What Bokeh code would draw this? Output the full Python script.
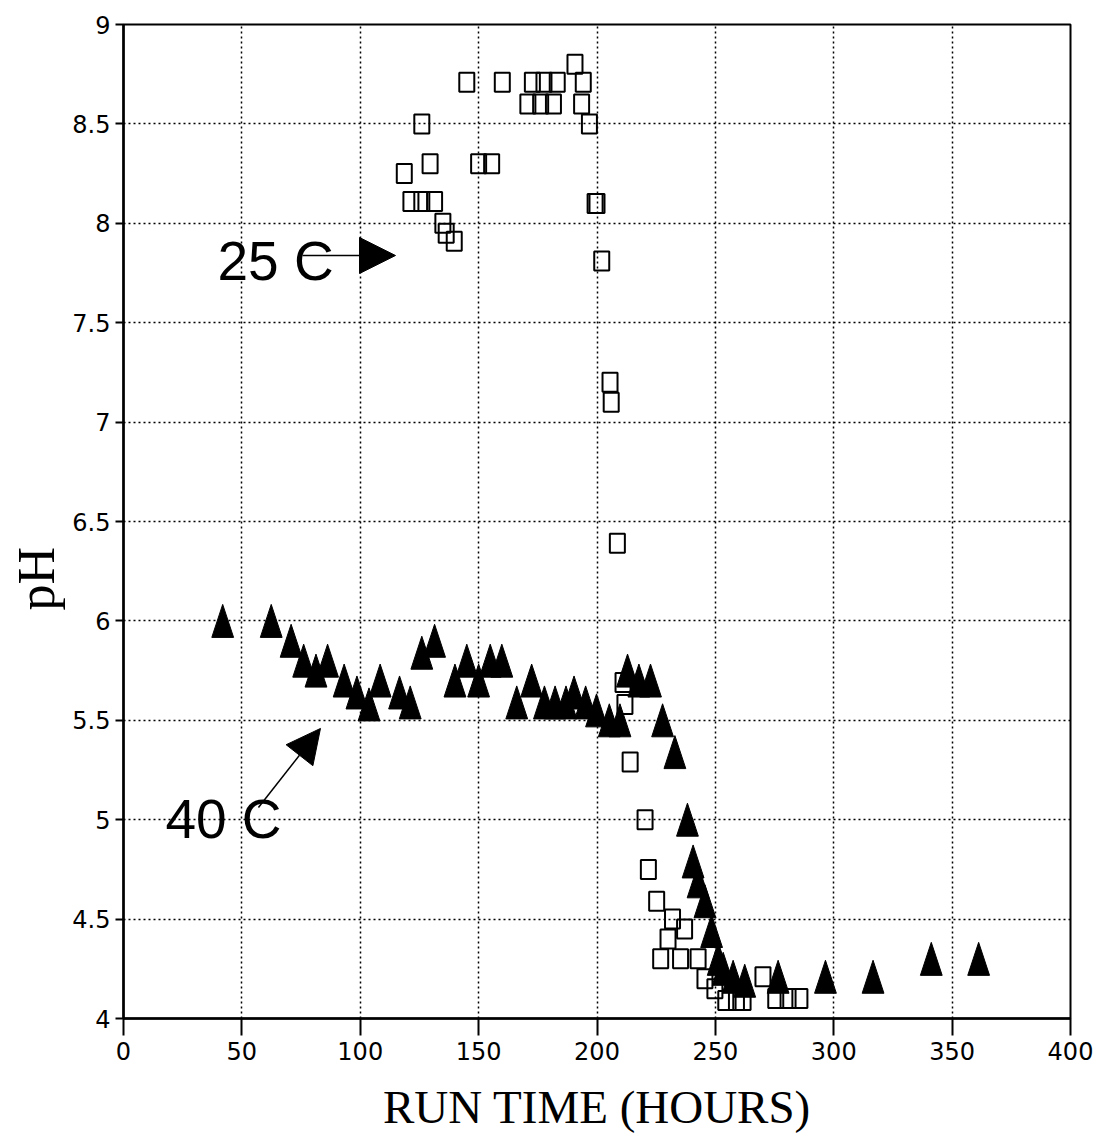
from bokeh.plotting import figure
from bokeh.models import Range1d, FixedTicker, Label, Arrow, NormalHead, Title
from bokeh.embed import file_html
from bokeh.resources import INLINE

# pH readings at 25 C (open squares)
hours_25c = [118.6, 121.4, 126.0, 126.0, 129.5, 131.4, 134.9, 136.3, 139.7, 145.0,
             150.0, 155.5, 160.0, 170.8, 172.7, 176.2, 177.6, 181.6, 183.2, 190.7,
             193.5, 194.2, 196.8, 199.2, 200.0, 202.0, 205.5, 206.0, 208.6, 211.0,
             211.8, 214.0, 220.3, 221.7, 225.2, 226.9, 230.0, 231.9, 235.3, 237.0,
             242.7, 245.6, 249.8, 254.4, 258.9, 261.7, 270.1, 275.5, 280.7, 285.7]
ph_25c = [8.25, 8.11, 8.11, 8.50, 8.30, 8.11, 8.00, 7.95, 7.91, 8.71,
          8.30, 8.30, 8.71, 8.60, 8.71, 8.60, 8.71, 8.60, 8.71, 8.80,
          8.60, 8.71, 8.50, 8.10, 8.10, 7.81, 7.20, 7.10, 6.39, 5.69,
          5.58, 5.29, 5.00, 4.75, 4.59, 4.30, 4.40, 4.50, 4.30, 4.45,
          4.30, 4.20, 4.15, 4.09, 4.09, 4.09, 4.21, 4.10, 4.10, 4.10]

# pH readings at 40 C (filled triangles)
hours_40c = [41.9, 62.4, 70.8, 76.1, 81.3, 86.2, 93.2, 98.6, 103.7, 108.4,
             116.6, 121.1, 126.0, 131.4, 140.0, 145.0, 150.0, 154.9, 159.8, 166.1,
             172.4, 177.8, 182.3, 186.9, 190.3, 195.2, 199.8, 205.2, 209.7, 212.9,
             217.7, 222.6, 227.7, 232.9, 238.2, 240.6, 242.7, 245.6, 248.4, 251.2,
             253.3, 257.5, 262.4, 276.5, 296.5, 316.6, 341.2, 361.2]
ph_40c = [6.00, 6.00, 5.90, 5.80, 5.75, 5.80, 5.70, 5.64, 5.58, 5.70,
          5.64, 5.59, 5.84, 5.90, 5.70, 5.80, 5.70, 5.80, 5.80, 5.59,
          5.70, 5.59, 5.59, 5.59, 5.64, 5.59, 5.55, 5.50, 5.50, 5.75,
          5.70, 5.70, 5.50, 5.34, 5.00, 4.79, 4.69, 4.59, 4.44, 4.30,
          4.25, 4.21, 4.19, 4.21, 4.21, 4.21, 4.30, 4.30]

x_ticks = [0, 50, 100, 150, 200, 250, 300, 350, 400]
y_ticks = [4.0, 4.5, 5.0, 5.5, 6.0, 6.5, 7.0, 7.5, 8.0, 8.5, 9.0]
y_tick_labels = ["4", "4.5", "5", "5.5", "6", "6.5", "7", "7.5", "8", "8.5", "9"]

p = figure(width=1099, height=1136,
           x_range=Range1d(0, 400), y_range=Range1d(4, 9),
           output_backend="svg", toolbar_location=None,
           min_border_left=123, min_border_right=29,
           min_border_top=24, min_border_bottom=118)

p.background_fill_color = "white"
p.border_fill_color = "white"
p.outline_line_color = "black"
p.outline_line_width = 2

# axes
tick_font = "DejaVu Sans"
for ax in (p.xaxis, p.yaxis):
    ax.axis_line_width = 2.5
    ax.axis_line_color = "black"
    ax.major_tick_line_width = 2
    ax.major_tick_line_color = "black"
    ax.major_tick_in = 0
    ax.minor_tick_in = 0
    ax.minor_tick_out = 0
    ax.major_label_text_font = tick_font
    ax.major_label_text_font_size = "24px"
    ax.major_label_text_color = "black"

p.xaxis.ticker = FixedTicker(ticks=x_ticks)
p.yaxis.ticker = FixedTicker(ticks=y_ticks)
p.yaxis.major_label_overrides = dict(zip(y_ticks, y_tick_labels))
p.xaxis.major_tick_out = 17
p.yaxis.major_tick_out = 8
p.xaxis.major_label_standoff = 6
p.yaxis.major_label_standoff = 5

# x axis title
p.xaxis.axis_label = "RUN TIME (HOURS)"
p.xaxis.axis_label_text_font = "Liberation Serif"
p.xaxis.axis_label_text_font_size = "47px"
p.xaxis.axis_label_text_font_style = "normal"
p.xaxis.axis_label_text_color = "black"
p.xaxis.axis_label_standoff = 18

# y axis title, set lower than the middle of the axis
p.add_layout(Title(text="pH", align="left", offset=408, standoff=10,
                   text_font="Liberation Serif", text_font_size="52px",
                   text_font_style="normal", text_color="black"), "left")

# dotted grid
for g in (p.xgrid, p.ygrid):
    g.grid_line_color = "black"
    g.grid_line_dash = "2 3"
    g.grid_line_width = 1.5
    g.grid_line_alpha = 1.0

# 25 C: hollow squares
p.rect(x=hours_25c, y=ph_25c, width=15, height=19,
       width_units="screen", height_units="screen",
       fill_color=None, line_color="black", line_width=2)

# 40 C: tall filled triangles centred on each reading
TRI_HALF_W = 4.6     # hours
TRI_HALF_H = 0.083   # pH units
tri_xs = [[x - TRI_HALF_W, x + TRI_HALF_W, x] for x in hours_40c]
tri_ys = [[y - TRI_HALF_H, y - TRI_HALF_H, y + TRI_HALF_H] for y in ph_40c]
p.patches(tri_xs, tri_ys, fill_color="black", line_color="black", line_width=1)

# series call-outs
p.add_layout(Label(x=39.7, y=7.81, text="25  C", text_font="Liberation Sans",
                   text_font_size="55px", text_color="black",
                   text_baseline="alphabetic", text_align="left"))
p.add_layout(Arrow(end=NormalHead(size=36, fill_color="black", line_color="black"),
                   x_start=75.6, y_start=7.838, x_end=114.9, y_end=7.838,
                   line_width=1.5, line_color="black"))

p.add_layout(Label(x=17.7, y=5.005, text="40  C", text_font="Liberation Sans",
                   text_font_size="55px", text_color="black",
                   text_baseline="alphabetic", text_align="left"))
p.add_layout(Arrow(end=NormalHead(size=34, fill_color="black", line_color="black"),
                   x_start=57.0, y_start=5.061, x_end=83.2, y_end=5.459,
                   line_width=1.5, line_color="black"))

open("out.html", "w").write(file_html(p, INLINE))
